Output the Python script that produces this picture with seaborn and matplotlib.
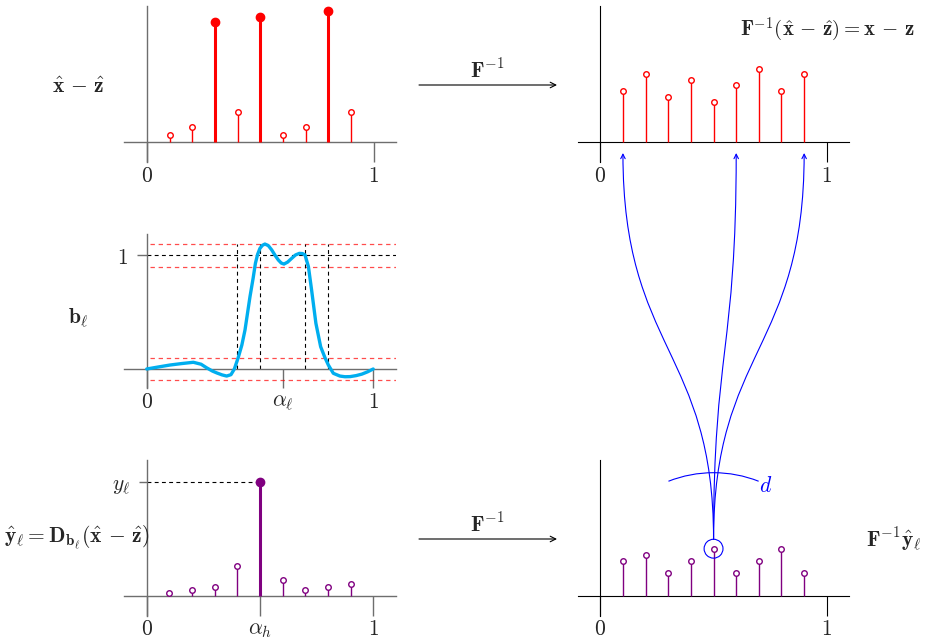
import matplotlib
matplotlib.use('Agg')
import matplotlib.pyplot as plt
from matplotlib.patches import FancyArrowPatch, Arc
from matplotlib.path import Path
import seaborn as sns

# stem positions (shared by every panel)
freqs = [0.1, 0.2, 0.3, 0.4, 0.5, 0.6, 0.7, 0.8, 0.9]

# top left: x_hat - z_hat, with three large (support) coefficients
xz_hat = [0.07, 0.15, 1.20, 0.30, 1.25, 0.07, 0.15, 1.31, 0.30]
support = [2, 4, 7]

# top right: F^-1 (x_hat - z_hat)
xz_time = [0.51, 0.68, 0.45, 0.62, 0.40, 0.57, 0.73, 0.51, 0.68]

# middle: filter b_l
b_x = [0.000, 0.052, 0.103, 0.155, 0.206, 0.240, 0.265, 0.290, 0.310, 0.333,
       0.353, 0.372, 0.387, 0.404, 0.420, 0.434, 0.456, 0.470, 0.480, 0.490,
       0.500, 0.511, 0.522, 0.537, 0.552, 0.567, 0.581, 0.594, 0.606, 0.622,
       0.640, 0.657, 0.674, 0.688, 0.699, 0.714, 0.728, 0.747, 0.768, 0.787,
       0.802, 0.824, 0.853, 0.875, 0.898, 0.925, 0.950, 0.975, 1.000]
b_y = [0.000, 0.018, 0.035, 0.048, 0.059, 0.042, 0.010, -0.018, -0.035, -0.052,
       -0.062, -0.050, 0.000, 0.100, 0.210, 0.343, 0.636, 0.800, 0.930, 1.010,
       1.061, 1.088, 1.099, 1.085, 1.047, 0.999, 0.959, 0.932, 0.923, 0.940,
       0.973, 1.003, 1.017, 1.015, 1.003, 0.900, 0.695, 0.402, 0.196, 0.100,
       0.035, -0.038, -0.062, -0.068, -0.067, -0.058, -0.045, -0.025, 0.000]
pass_band = [0.9, 1.1]
stop_band = [-0.1, 0.1]
edges = [0.4, 0.5, 0.7, 0.8]
alpha_l = 0.6

# bottom left: y_hat_l = D_b (x_hat - z_hat)
y_hat = [0.03, 0.06, 0.087, 0.30, 1.133, 0.153, 0.06, 0.087, 0.113]
peak = 4

# bottom right: F^-1 y_hat_l
y_time = [0.35, 0.407, 0.227, 0.35, 0.47, 0.227, 0.35, 0.47, 0.227]
targets = [0, 5, 8]

RED = '#ff0000'
PURPLE = '#800080'
CYAN = '#00aeef'
BLUE = '#0000ff'
GRAY = '#6e6e6e'
FS = 15.5

sns.set_style('white')
plt.rcParams['mathtext.fontset'] = 'cm'
plt.rcParams['font.family'] = ['DejaVu Serif']

W, H = 928, 643
fig = plt.figure(figsize=(W / 100, H / 100), dpi=100)

SX = 226.5


def panel(ox, oy, sy, ybot, ytop, color, lw, xticks, xlabels, pad):
    xlo, xhi = -0.1, 1.1
    left = (ox + xlo * SX) / W
    width = (xhi - xlo) * SX / W
    bottom = (H - oy + ybot * sy) / H
    height = (ytop - ybot) * sy / H
    ax = fig.add_axes([left, bottom, width, height])
    ax.set_xlim(xlo, xhi)
    ax.set_ylim(ybot, ytop)
    ax.patch.set_alpha(0)
    ax.grid(False)
    for s in ['top', 'right']:
        ax.spines[s].set_visible(False)
    for s in ['left', 'bottom']:
        ax.spines[s].set_position(('data', 0))
        ax.spines[s].set_color(color)
        ax.spines[s].set_linewidth(lw)
    ax.spines['left'].set_bounds(ybot, ytop)
    ax.spines['bottom'].set_bounds(xlo, xhi)
    ax.set_xticks(xticks, xlabels)
    ax.set_yticks([])
    ax.tick_params(axis='x', direction='out', length=-ybot * sy * 0.72, width=lw,
                   color=color, pad=pad, labelsize=FS, bottom=True)
    return ax


def stems(ax, xs, ys, color, lw, s, filled):
    ax.vlines(xs, 0, ys, color=color, lw=lw, zorder=3)
    sns.scatterplot(x=xs, y=ys, ax=ax, s=s, color=color if filled else 'white',
                    edgecolor=color, linewidth=1.0, zorder=4, clip_on=False)


# ---------------- top left
ax1 = panel(147, 142, 100, -0.2, 1.36, GRAY, 1.0, [0, 1], ['$0$', '$1$'], 2.5)
small = [i for i in range(len(freqs)) if i not in support]
stems(ax1, [freqs[i] for i in small], [xz_hat[i] for i in small], RED, 1.0, 16, False)
stems(ax1, [freqs[i] for i in support], [xz_hat[i] for i in support], RED, 2.2, 36, True)

# ---------------- top right
ax2 = panel(600.3, 142, 100, -0.2, 1.36, 'black', 0.8, [0, 1], ['$0$', '$1$'], 2.5)
stems(ax2, freqs, xz_time, RED, 1.0, 16, False)

# ---------------- middle left
ax3 = panel(146.7, 369, 113.7, -0.167, 1.19, GRAY, 1.0, [0, alpha_l, 1],
            ['$0$', r'$\alpha_\ell$', '$1$'], 2)
ax3.set_yticks([1], ['$1$'])
ax3.tick_params(axis='y', direction='out', length=7.2, width=1.0, color=GRAY,
                pad=6, labelsize=FS, left=True)
ax3.hlines(pass_band + stop_band, 0.015, 1.1, colors=RED, alpha=0.7, lw=0.9,
           linestyles=(0, (3.5, 3)))
ax3.hlines(1, 0, 1.1, colors='black', lw=0.8, linestyles=(0, (3.5, 3)))
ax3.vlines(edges, 0, pass_band[1], colors='black', lw=0.8, linestyles=(0, (3.5, 3)))
sns.lineplot(x=b_x, y=b_y, ax=ax3, sort=False, color=CYAN, lw=2.4, zorder=5)

# ---------------- bottom left
ax4 = panel(146.7, 595.7, 100, -0.2, 1.357, GRAY, 1.0, [0, freqs[peak], 1],
            ['$0$', r'$\alpha_h$', '$1$'], 1.5)
ax4.set_yticks([y_hat[peak]], [r'$y_\ell$'])
ax4.tick_params(axis='y', direction='out', length=5.5, width=1.0, color=GRAY,
                pad=6, labelsize=FS, left=True)
ax4.hlines(y_hat[peak], 0, freqs[peak], colors='black', lw=0.8, linestyles=(0, (3.5, 3)))
others = [i for i in range(len(freqs)) if i != peak]
stems(ax4, [freqs[i] for i in others], [y_hat[i] for i in others], PURPLE, 1.0, 16, False)
stems(ax4, [freqs[peak]], [y_hat[peak]], PURPLE, 2.2, 36, True)

# ---------------- bottom right
ax5 = panel(600.3, 595.7, 100, -0.2, 1.357, 'black', 0.8, [0, 1], ['$0$', '$1$'], 1.5)
stems(ax5, freqs, y_time, PURPLE, 1.0, 16, False)
ax5.scatter([freqs[peak]], [y_time[peak]], s=185, facecolor='none', edgecolor=BLUE,
            linewidth=0.8, zorder=5, clip_on=False)

# ---------------- overlay in pixel coordinates
ov = fig.add_axes([0, 0, 1, 1])
ov.set_xlim(0, W)
ov.set_ylim(H, 0)
ov.axis('off')


def to_px(ax, x, y):
    return ov.transData.inverted().transform(ax.transData.transform((x, y)))


# F^-1 arrows
for yy in [85, 539]:
    ov.add_patch(FancyArrowPatch((419, yy), (557, yy), arrowstyle='->',
                                 mutation_scale=10, color='black', lw=0.8,
                                 shrinkA=0, shrinkB=0))
    ov.text(487, yy - 14, r'$\mathbf{F}^{-1}$', ha='center', va='center', fontsize=FS)

# blue curves from the circled sample to three samples on top
sx0, sy0 = to_px(ax5, freqs[peak], y_time[peak])
sy0 -= 9.5
for t in targets:
    tx, ty = to_px(ax2, freqs[t], 0)
    ty += 11
    path = Path([(sx0, sy0), (sx0, 350), (tx, 350), (tx, ty)],
                [Path.MOVETO, Path.CURVE4, Path.CURVE4, Path.CURVE4])
    ov.add_patch(FancyArrowPatch(path=path, arrowstyle='->', mutation_scale=8,
                                 color=BLUE, lw=0.8))

bx, by = to_px(ax5, freqs[peak], 0)
ov.add_patch(Arc((bx, by), 246, 246, theta1=248.5, theta2=291.5, color=BLUE, lw=0.8))
ov.text(766, 486, '$d$', color=BLUE, ha='center', va='center', fontsize=FS)

# labels
MINUS = r'\,-\,'
ov.text(79, 87, r'$\hat{\mathbf{x}}' + MINUS + r'\hat{\mathbf{z}}$', ha='center', va='center', fontsize=FS)
ov.text(78, 318, r'$\mathbf{b}_\ell$', ha='center', va='center', fontsize=FS)
ov.text(77, 538, r'$\hat{\mathbf{y}}_\ell = \mathbf{D}_{\mathbf{b}_\ell}(\hat{\mathbf{x}}' + MINUS
        + r'\hat{\mathbf{z}})$', ha='center', va='center', fontsize=FS)
ov.text(827, 30, r'$\mathbf{F}^{-1}(\hat{\mathbf{x}}' + MINUS + r'\hat{\mathbf{z}}) = \mathbf{x}'
        + MINUS + r'\mathbf{z}$', ha='center', va='center', fontsize=FS - 0.5)
ov.text(894, 540, r'$\mathbf{F}^{-1}\hat{\mathbf{y}}_\ell$', ha='center', va='center', fontsize=FS)

fig.savefig('out.png', dpi=100)
